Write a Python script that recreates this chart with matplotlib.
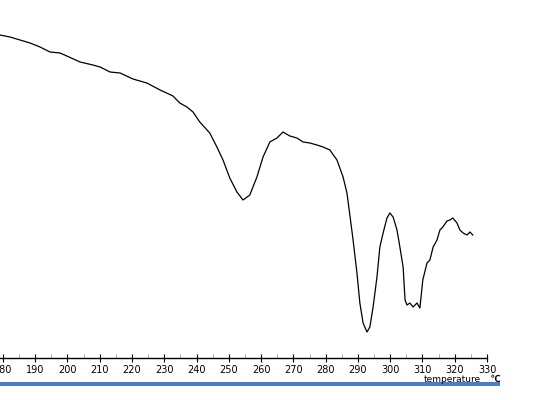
import matplotlib
matplotlib.use("Agg")
import matplotlib.pyplot as plt
from matplotlib.ticker import MultipleLocator
from matplotlib.patches import Rectangle

# temperature (°C) and signal (arbitrary units)
temperature = [179.1, 182.2, 185.3, 188.4, 191.5, 194.6, 197.7, 199.8, 203.9, 207.9,
               210.1, 213.2, 216.3, 220.3, 224.6, 228.7, 232.7, 234.8, 237.0, 238.9,
               241.0, 244.1, 246.3, 248.2, 250.3, 252.5, 254.4, 256.5, 258.7, 260.6,
               262.7, 264.9, 266.8, 268.9, 271.1, 273.0, 275.1, 277.3, 279.2, 281.3,
               283.5, 285.4, 286.6, 287.5, 288.5, 289.7, 290.6, 291.6, 292.8, 293.7,
               294.7, 295.9, 296.8, 297.8, 299.0, 299.9, 300.9, 302.1, 303.0, 304.0,
               304.6, 305.2, 306.1, 307.1, 308.3, 309.2, 310.1, 311.4, 312.3, 313.3,
               314.5, 315.4, 316.3, 317.6, 318.5, 319.4, 320.7, 321.6, 322.6, 323.8,
               324.7, 325.6]
signal = [325, 323, 320, 317, 313, 308, 307, 304, 298, 295,
          293, 288, 287, 281, 277, 270, 264, 257, 253, 248,
          238, 227, 213, 200, 182, 168, 160, 165, 183, 203,
          218, 222, 228, 224, 222, 218, 217, 215, 213, 210,
          200, 183, 167, 145, 120, 87, 57, 37, 28, 33,
          53, 83, 113, 127, 142, 147, 143, 130, 113, 93,
          60, 55, 57, 53, 57, 52, 80, 97, 100, 113,
          120, 130, 133, 139, 140, 142, 137, 130, 127, 125,
          128, 125]
xticks = list(range(180, 331, 10))

fig = plt.figure(figsize=(5.5, 4.0), dpi=100)
ax = fig.add_axes([0.0, 0.105, 0.8855, 0.895])
ax.plot(temperature, signal, color="black", linewidth=0.9)
ax.set_xlim(179.1, 330)
ax.set_ylim(2, 360)
for s in ["top", "left", "right"]:
    ax.spines[s].set_visible(False)
ax.spines["bottom"].set_linewidth(1.0)
ax.set_yticks([])
ax.set_xticks(xticks)
ax.xaxis.set_minor_locator(MultipleLocator(5))
ax.tick_params(axis="x", which="major", direction="inout", length=6, width=0.8,
               labelsize=7, pad=2)
ax.tick_params(axis="x", which="minor", direction="in", length=3, width=0.6, color="#999999")
for lab in ax.get_xticklabels():
    lab.set_family(["Liberation Sans Narrow", "DejaVu Sans"])

fig.text(452 / 550, 1 - 379 / 400, "temperature", ha="center", va="center",
         fontsize=6.5, family=["Liberation Sans Narrow", "DejaVu Sans"])
fig.text(496 / 550, 1 - 379 / 400, "℃", ha="center", va="center",
         fontsize=7, fontweight="bold", family=["Noto Sans CJK SC", "DejaVu Sans"])
fig.add_artist(Rectangle((0, 1 - 386 / 400), 500 / 550, 4 / 400,
                         transform=fig.transFigure, color="#4a7ec6", lw=0))

fig.savefig("out.png", dpi=100)
